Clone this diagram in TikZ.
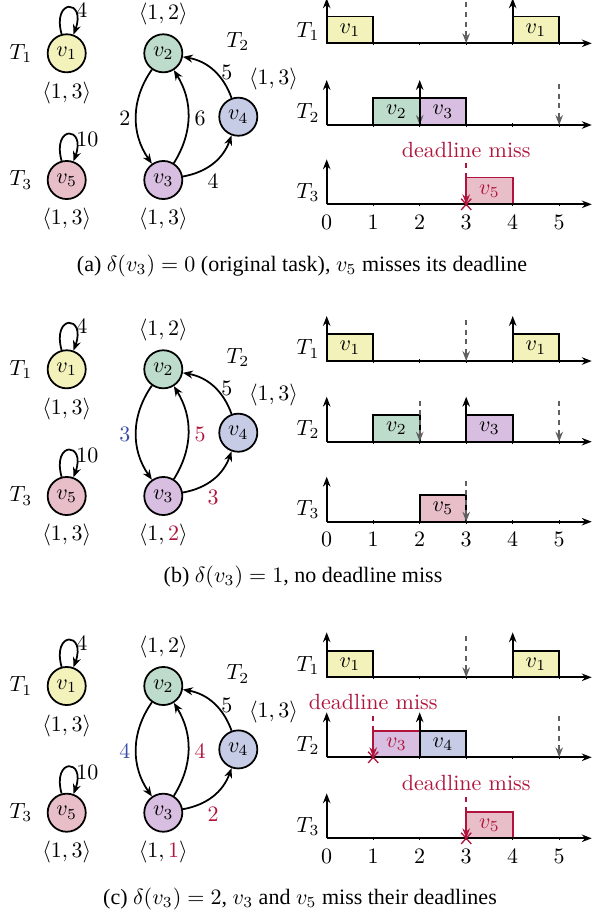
\documentclass[tikz,border=0pt]{standalone}
\usepackage{fontspec}
\newfontfamily\capfont{Liberation Serif}
\usetikzlibrary{arrows.meta,shapes.misc}
\definecolor{cy}{RGB}{242,242,186}
\definecolor{cg}{RGB}{190,220,203}
\definecolor{cp}{RGB}{216,190,224}
\definecolor{cb}{RGB}{198,203,230}
\definecolor{ck}{RGB}{232,190,200}
\definecolor{dm}{RGB}{176,20,60}
\definecolor{bl}{RGB}{58,76,168}
\definecolor{dl}{RGB}{95,95,95}
\newcommand{\tlaxis}{\draw[axisln] (0,0) -- (5.7,0);
  \foreach \t in {1,...,5} \draw[semithick] (\t,-1.8) -- (\t,1.8);}
\newcommand{\relarrow}[1]{\draw[relln] (#1,0) -- (#1,45);}
\newcommand{\dlarrow}[1]{\draw[dlnln] (#1,41) -- (#1,0);}
\newcommand{\missarrow}[2]{\draw[missln] (#1,41) -- (#1,0); \node[missx] (#2) at (#1,0) {};}
\newcommand{\ticklabels}[1]{\foreach \t in {0,...,5} \node (#1\t) at (\t,-18) {$\t$};}
\newcommand{\taskgraph}[6]{%
 \begin{scope}[shift={(0,-#1)}]
  \node[vtx,fill=cy] (#6v1) at (66.7,0) {$v_1$};
  \node[vtx,fill=cg] (#6v2) at (163.3,0) {$v_2$};
  \node[vtx,fill=cb] (#6v4) at (238.3,-63.4) {$v_4$};
  \node[vtx,fill=cp] (#6v3) at (163.3,-126.7) {$v_3$};
  \node[vtx,fill=ck] (#6v5) at (66.7,-126.7) {$v_5$};
  \node (#6t1) at (21,0) {$T_1$};
  \node (#6t3) at (21,-126.7) {$T_3$};
  \node (#6t2) at (238,12) {$T_2$};
  \node (#6d1) at (66.7,-39.5) {$\langle 1,3\rangle$};
  \node (#6d2) at (163.3,39) {$\langle 1,2\rangle$};
  \node (#6d4) at (273.5,-25.5) {$\langle 1,3\rangle$};
  \node (#6d5) at (66.7,-166) {$\langle 1,3\rangle$};
  \node (#6d3) at (163.3,-166) {#5};
  \draw[gedge] (#6v1) to[loop above,in=70,min distance=6mm] (#6v1);
  \draw[gedge] (#6v5) to[loop above,in=70,min distance=6mm] (#6v5);
  \draw[gedge] (#6v2) to[bend right=35] (#6v3);
  \draw[gedge] (#6v3) to[bend right=32] (#6v2);
  \draw[gedge] (#6v4) to[bend right=30] (#6v2);
  \draw[gedge] (#6v3) to[bend right=30] (#6v4);
  \node[anchor=west,inner sep=0pt] (#6l1) at (76,43) {$4$};
  \node[anchor=west,inner sep=0pt] (#6l5) at (76,-86) {$10$};
  \node (#6e23) at (125,-65.5) {#2};
  \node (#6e32) at (200,-65.5) {#3};
  \node (#6e42) at (227,-19) {$5$};
  \node (#6e34) at (213,-128.5) {#4};
 \end{scope}}
\begin{document}
\begin{tikzpicture}[x=0.4545pt,y=0.4545pt,
  vtx/.style={circle,draw,thick,minimum size=17.3pt,inner sep=0pt},
  gedge/.style={thick,-{Stealth[length=4.5pt,width=3.6pt]}},
  axisln/.style={thick,-{Stealth[length=4.5pt,width=3.4pt]}},
  relln/.style={thick,-{Stealth[length=4.5pt,width=3.4pt]}},
  dlnln/.style={thick,dl,dash pattern=on 2.2pt off 2.2pt,-{Stealth[length=4.5pt,width=3.4pt]}},
  missln/.style={thick,dm,dash pattern=on 2.2pt off 2.2pt,-{Stealth[length=4.5pt,width=3.4pt]}},
  job/.style={draw,thick,minimum width=21.13pt,minimum height=12.13pt,inner sep=0pt,outer sep=0pt,anchor=south west},
  missx/.style={cross out,draw=dm,semithick,minimum width=4pt,minimum height=4.5pt,inner sep=0pt},
  misstxt/.style={text=dm},
  tlbl/.style={},
  capt/.style={font=\capfont}]
\useasboundingbox (0,0) rectangle (602,-913);

%% ===== panel (a) =====
\taskgraph{53.3}{$2$}{$6$}{$4$}{$\langle 1,3\rangle$}{a}
\begin{scope}[shift={(326.7,-43.3)},xscale=46.5]
  \node[job,fill=cy] (aj11) at (0,0) {$v_1$};
  \node[job,fill=cy] (aj12) at (4,0) {$v_1$};
  \tlaxis \dlarrow{3} \relarrow{0} \relarrow{4}
  \node[tlbl] (aT1) at (-0.402,12) {$T_1$};
\end{scope}
\begin{scope}[shift={(326.7,-125)},xscale=46.5]
  \node[job,fill=cg] (aj21) at (1,0) {$v_2$};
  \node[job,fill=cp] (aj22) at (2,0) {$v_3$};
  \tlaxis \dlarrow{2} \dlarrow{5} \relarrow{0} \relarrow{2}
  \node[tlbl] (aT2) at (-0.402,12) {$T_2$};
\end{scope}
\begin{scope}[shift={(326.7,-204.3)},xscale=46.5]
  \node[job,fill=ck,draw=dm,text=dm] (aj31) at (3,0) {$v_5$};
  \tlaxis \relarrow{0} \missarrow{3}{ax3}
  \node[misstxt] (am3) at (3,54) {deadline miss};
  \node[tlbl] (aT3) at (-0.402,12) {$T_3$};
  \ticklabels{atk}
\end{scope}
\node[capt] (capa) at (302,-266) {(a) $\delta(v_3)=0$ (original task), $v_5$ misses its deadline};

%% ===== panel (b) =====
\taskgraph{369.3}{$\textcolor{bl}{3}$}{$\textcolor{dm}{5}$}{$\textcolor{dm}{3}$}{$\langle 1,\textcolor{dm}{2}\rangle$}{b}
\begin{scope}[shift={(326.7,-361)},xscale=46.5]
  \node[job,fill=cy] (bj11) at (0,0) {$v_1$};
  \node[job,fill=cy] (bj12) at (4,0) {$v_1$};
  \tlaxis \dlarrow{3} \relarrow{0} \relarrow{4}
  \node[tlbl] (bT1) at (-0.402,12) {$T_1$};
\end{scope}
\begin{scope}[shift={(326.7,-441.7)},xscale=46.5]
  \node[job,fill=cg] (bj21) at (1,0) {$v_2$};
  \node[job,fill=cp] (bj22) at (3,0) {$v_3$};
  \tlaxis \dlarrow{2} \dlarrow{5} \relarrow{0} \relarrow{3}
  \node[tlbl] (bT2) at (-0.402,12) {$T_2$};
\end{scope}
\begin{scope}[shift={(326.7,-521.7)},xscale=46.5]
  \node[job,fill=ck] (bj31) at (2,0) {$v_5$};
  \tlaxis \dlarrow{3} \relarrow{0}
  \node[tlbl] (bT3) at (-0.402,12) {$T_3$};
  \ticklabels{btk}
\end{scope}
\node[capt] (capb) at (303,-577) {(b) $\delta(v_3)=1$, no deadline miss};

%% ===== panel (c) =====
\taskgraph{686}{$\textcolor{bl}{4}$}{$\textcolor{dm}{4}$}{$\textcolor{dm}{2}$}{$\langle 1,\textcolor{dm}{1}\rangle$}{c}
\begin{scope}[shift={(326.7,-677.3)},xscale=46.5]
  \node[job,fill=cy] (cj11) at (0,0) {$v_1$};
  \node[job,fill=cy] (cj12) at (4,0) {$v_1$};
  \tlaxis \dlarrow{3} \relarrow{0} \relarrow{4}
  \node[tlbl] (cT1) at (-0.402,12) {$T_1$};
\end{scope}
\begin{scope}[shift={(326.7,-757.3)},xscale=46.5]
  \node[job,fill=cp,draw=dm,text=dm] (cj21) at (1,0) {$v_3$};
  \node[job,fill=cb] (cj22) at (2,0) {$v_4$};
  \tlaxis \dlarrow{5} \relarrow{0} \relarrow{2} \missarrow{1}{cx2}
  \node[misstxt] (cm2) at (1,55) {deadline miss};
  \node[tlbl] (cT2) at (-0.402,12) {$T_2$};
\end{scope}
\begin{scope}[shift={(326.7,-838.3)},xscale=46.5]
  \node[job,fill=ck,draw=dm,text=dm] (cj31) at (3,0) {$v_5$};
  \tlaxis \relarrow{0} \missarrow{3}{cx3}
  \node[misstxt] (cm3) at (3,55) {deadline miss};
  \node[tlbl] (cT3) at (-0.402,12) {$T_3$};
  \ticklabels{ctk}
\end{scope}
\node[capt] (capc) at (300,-899) {(c) $\delta(v_3)=2$, $v_3$ and $v_5$ miss their deadlines};
\end{tikzpicture}
\end{document}
